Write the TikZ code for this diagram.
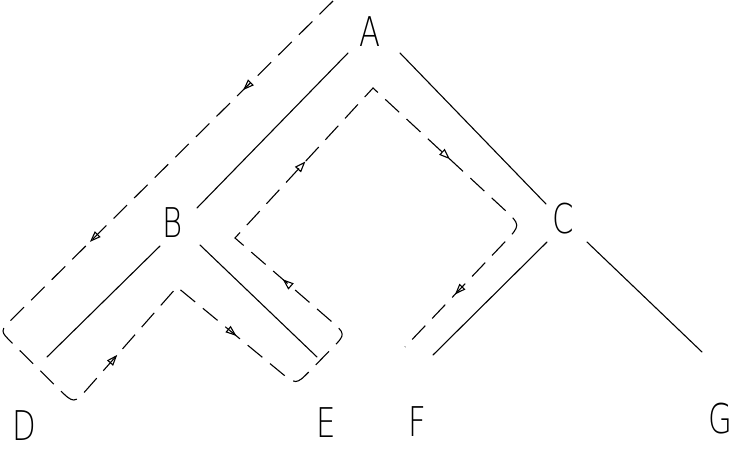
\documentclass[tikz,border=0pt]{standalone}
\usepackage{fontspec}
\usetikzlibrary{calc,arrows.meta,decorations.markings}
\newfontfamily\lblfont{DejaVu Sans ExtraLight}
\tikzset{
  lbl/.style={inner sep=0pt, font=\lblfont\fontsize{41}{41}\selectfont},
  treeline/.style={line width=1.1pt, line cap=round},
  tourline/.style={line width=1.1pt, dash pattern=on 19pt off 10pt},
  tourmark/.style={decoration={markings,
      mark=at position #1 with {\arrow[line width=1.1pt]{Triangle[open,length=11pt,width=8pt]}}},
      decorate},
}
\newcommand{\lettr}[1]{\scalebox{0.75}[1]{#1}}
\begin{document}
\begin{tikzpicture}[x=1pt,y=-1pt]
\useasboundingbox (0,0) rectangle (733,452);

% tree labels
\node[lbl] (A) at (370,32)  {\lettr{A}};
\node[lbl] (B) at (173,223) {\lettr{B}};
\node[lbl] (C) at (563,219) {\lettr{C}};
\node[lbl] (D) at (24,426)  {\lettr{D}};
\node[lbl] (E) at (326,423) {\lettr{E}};
\node[lbl] (F) at (417,422) {\lettr{F}};
\node[lbl] (G) at (720,419) {\lettr{G}};

% tree edges
\draw[treeline] ($(A)+(-22,21)$) -- ($(B)+(24,-15)$);
\draw[treeline] ($(A)+(30,21)$)  -- ($(C)+(-17,-15)$);
\draw[treeline] ($(B)+(-13,23)$) -- ($(D)+(23,-69)$);
\draw[treeline] ($(B)+(27,22)$)  -- ($(E)+(-9,-66)$);
\draw[treeline] ($(C)+(-16,23)$) -- ($(F)+(16,-67)$);
\draw[treeline] ($(C)+(24,23)$)  -- ($(G)+(-18,-67)$);

% corners of the walk round the tree
\coordinate (t0) at (333,1);
\coordinate (t1) at (0,331);
\coordinate (t2) at (74,404);
\coordinate (t3) at (177,287);
\coordinate (t4) at (296,385);
\coordinate (t5) at (346,334);
\coordinate (t6) at (235,238);
\coordinate (t7) at (373,88);
\coordinate (t8) at (521,225);
\coordinate (t9) at (405,347);

% the walk itself
\draw[tourline]
  (t0) -- ($(t1)!17pt!(t0)$) .. controls (t1) .. ($(t1)!17pt!(t2)$)
  -- ($(t2)!22pt!(t1)$) .. controls (t2) .. ($(t2)!22pt!(t3)$)
  -- (t3)
  -- ($(t4)!22pt!(t3)$) .. controls (t4) .. ($(t4)!20pt!(t5)$)
  -- ($(t5)!20pt!(t4)$) .. controls (t5) .. ($(t5)!22pt!(t6)$)
  -- (t6) -- (t7)
  -- ($(t8)!24pt!(t7)$) .. controls (t8) .. ($(t8)!24pt!(t9)$)
  -- (t9);

% direction marks
\path[tourmark=0.27] (t0) -- (t1);
\path[tourmark=0.73] (t0) -- (t1);
\path[tourmark=0.42] (t2) -- (t3);
\path[tourmark=0.50] (t3) -- (t4);
\path[tourmark=0.57] (t5) -- (t6);
\path[tourmark=0.51] (t6) -- (t7);
\path[tourmark=0.52] (t7) -- (t8);
\path[tourmark=0.57] (t8) -- (t9);
\end{tikzpicture}
\end{document}
